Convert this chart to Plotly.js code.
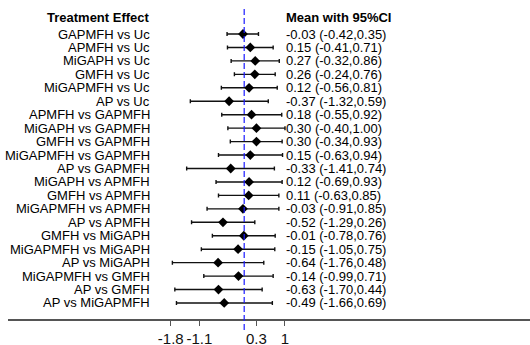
<!DOCTYPE html>
<html>
<head>
<meta charset="utf-8">
<script src="https://cdn.plot.ly/plotly-3.0.1.min.js"></script>
<style>html,body{margin:0;padding:0;background:#fff;}#chart{width:530px;height:345px;}</style>
</head>
<body>
<div id="chart"></div>
<script>
// ---- data ----
const comparisons = [
  "GAPMFH vs Uc", "APMFH vs Uc", "MiGAPH vs Uc", "GMFH vs Uc", "MiGAPMFH vs Uc", "AP vs Uc",
  "APMFH vs GAPMFH", "MiGAPH vs GAPMFH", "GMFH vs GAPMFH", "MiGAPMFH vs GAPMFH", "AP vs GAPMFH",
  "MiGAPH vs APMFH", "GMFH vs APMFH", "MiGAPMFH vs APMFH", "AP vs APMFH",
  "GMFH vs MiGAPH", "MiGAPMFH vs MiGAPH", "AP vs MiGAPH",
  "MiGAPMFH vs GMFH", "AP vs GMFH", "AP vs MiGAPMFH"
];
const means = [-0.03, 0.15, 0.27, 0.26, 0.12, -0.37, 0.18, 0.30, 0.30, 0.15, -0.33,
               0.12, 0.11, -0.03, -0.52, -0.01, -0.15, -0.64, -0.14, -0.63, -0.49];
const lower = [-0.42, -0.41, -0.32, -0.24, -0.56, -1.32, -0.55, -0.40, -0.34, -0.63, -1.41,
               -0.69, -0.63, -0.91, -1.29, -0.78, -1.05, -1.76, -0.99, -1.70, -1.66];
const upper = [0.35, 0.71, 0.86, 0.76, 0.81, 0.59, 0.92, 1.00, 0.93, 0.94, 0.74,
               0.93, 0.85, 0.85, 0.26, 0.76, 0.75, 0.48, 0.71, 0.44, 0.69];
const tickVals = [-1.8, -1.1, 0.3, 1];
const tickText = ["-1.8", "-1.1", "0.3", "1"];
const headerLeft = "Treatment Effect";
const headerRight = "Mean with 95%CI";
const nullValue = 0;

// ---- build ----
const n = means.length;
const rows = means.map((_, i) => i);
const fmt = v => v.toFixed(2);
const ciText = means.map((m, i) => fmt(m) + " (" + fmt(lower[i]) + "," + fmt(upper[i]) + ")");

const FONT = "Liberation Sans, Arial, sans-serif";
const trace = {
  type: "scatter",
  mode: "markers",
  x: means,
  y: rows,
  marker: {symbol: "diamond", size: 7.5, color: "#000"},
  error_x: {
    type: "data", symmetric: false,
    array: upper.map((u, i) => u - means[i]),
    arrayminus: lower.map((l, i) => means[i] - l),
    color: "#111", thickness: 1.4, width: 2
  },
  hoverinfo: "skip",
  cliponaxis: false
};

const annotations = [];
comparisons.slice(0, n).forEach((c, i) => {
  annotations.push({xref: "paper", yref: "y", x: 0.274, y: i, text: c, showarrow: false, borderpad: 0,
    xanchor: "right", yanchor: "middle", align: "right", font: {family: FONT, size: 13, color: "#000"}});
  annotations.push({xref: "paper", yref: "y", x: 0.531, y: i, text: ciText[i], showarrow: false, borderpad: 0,
    xanchor: "left", yanchor: "middle", align: "left", font: {family: FONT, size: 13, color: "#000"}});
});
annotations.push({xref: "paper", yref: "y", x: 0.274, y: -1.2, text: "<b>" + headerLeft + "</b>", showarrow: false, borderpad: 0,
  xanchor: "right", yanchor: "middle", font: {family: FONT, size: 13, color: "#000"}});
annotations.push({xref: "paper", yref: "y", x: 0.531, y: -1.2, text: "<b>" + headerRight + "</b>", showarrow: false, borderpad: 0,
  xanchor: "left", yanchor: "middle", font: {family: FONT, size: 13, color: "#000"}});

const layout = {
  width: 530, height: 345,
  margin: {l: 8, r: 0, t: 0, b: 26, pad: 0},
  paper_bgcolor: "#fff", plot_bgcolor: "#fff",
  showlegend: false,
  xaxis: {
    range: [-5.789, 7.005], showgrid: false, zeroline: false,
    showline: true, linecolor: "#555", linewidth: 1.5,
    ticks: "outside", ticklen: 5, tickwidth: 1, tickcolor: "#555",
    tickvals: tickVals, ticktext: tickText,
    tickfont: {family: FONT, size: 15, color: "#111"}, fixedrange: true
  },
  yaxis: {
    range: [21.19, -2.528], visible: false, showgrid: false, zeroline: false, fixedrange: true
  },
  shapes: [{
    type: "line", xref: "x", yref: "paper", x0: nullValue, x1: nullValue, y0: -0.0345, y1: 0.975,
    line: {color: "#1a1aff", width: 1.2, dash: "6px,3px"}
  }],
  annotations: annotations
};

Plotly.newPlot("chart", [trace], layout, {displayModeBar: false, staticPlot: true});
</script>
</body>
</html>
